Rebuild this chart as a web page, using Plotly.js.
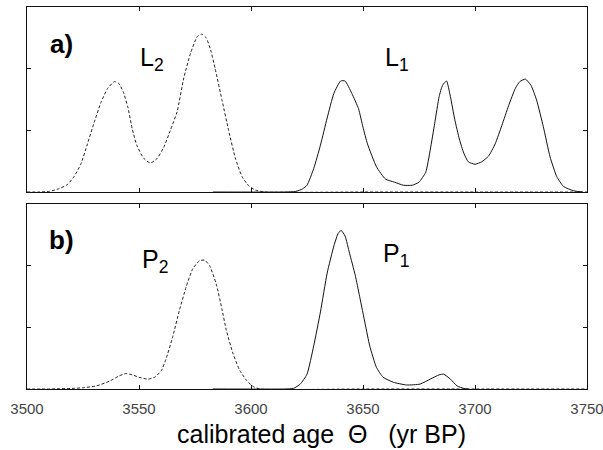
<!DOCTYPE html>
<html>
<head>
<meta charset="utf-8">
<script src="https://cdn.plot.ly/plotly-3.0.1.min.js"></script>
<style>html,body{margin:0;padding:0;background:#fff;}#chart{width:603px;height:450px;}</style>
</head>
<body>
<div id="chart"></div>
<script>
// Panel a) L2 (dashed) and L1 (solid)
var L2_x = [3500, 3505, 3510, 3514, 3518, 3521, 3524, 3527, 3530, 3533, 3536, 3539, 3541, 3543, 3545, 3547, 3549, 3552, 3555, 3558, 3561, 3564, 3567, 3570, 3573, 3576, 3578, 3580, 3582, 3584, 3587, 3590, 3593, 3596, 3599, 3602, 3606, 3650, 3700, 3750];
var L2_y = [0, 0, 0.01, 0.05, 0.12, 0.25, 0.45, 0.78, 1.13, 1.45, 1.68, 1.79, 1.76, 1.62, 1.38, 1.02, 0.76, 0.55, 0.47, 0.54, 0.72, 1.0, 1.3, 1.85, 2.25, 2.52, 2.56, 2.5, 2.3, 2.0, 1.5, 1.0, 0.55, 0.25, 0.1, 0.03, 0, 0, 0, 0];

var L1_x = [3583, 3615, 3620, 3623, 3625, 3628, 3631, 3634, 3637, 3640, 3642, 3645, 3648, 3650, 3652, 3656, 3660, 3664, 3668, 3672, 3675, 3678, 3680, 3682, 3684, 3685.5, 3687.3, 3689, 3691, 3693, 3695, 3697, 3700, 3703, 3706, 3709, 3712, 3715, 3718, 3720, 3722.5, 3725, 3727.5, 3730.5, 3733.5, 3736.5, 3739.5, 3744, 3748];
var L1_y = [0, 0, 0.01, 0.05, 0.11, 0.38, 0.76, 1.2, 1.6, 1.8, 1.8, 1.6, 1.35, 1.05, 0.78, 0.41, 0.21, 0.16, 0.11, 0.11, 0.16, 0.32, 0.68, 1.11, 1.55, 1.73, 1.8, 1.55, 1.17, 0.86, 0.63, 0.49, 0.45, 0.49, 0.58, 0.78, 1.08, 1.4, 1.68, 1.79, 1.83, 1.73, 1.49, 1.06, 0.57, 0.25, 0.09, 0.02, 0];

// Panel b) P2 (dashed) and P1 (solid)
var P2_x = [3500, 3510, 3520, 3525, 3531, 3537, 3541, 3544, 3547, 3550, 3554, 3557, 3560, 3562, 3565, 3568, 3571, 3574, 3577, 3579.3, 3581.5, 3584.5, 3587, 3589, 3592, 3595, 3598, 3601, 3604, 3650, 3700, 3750];
var P2_y = [0, 0, 0.01, 0.02, 0.05, 0.13, 0.21, 0.25, 0.23, 0.19, 0.16, 0.19, 0.3, 0.48, 0.84, 1.27, 1.65, 1.95, 2.08, 2.09, 2.0, 1.7, 1.3, 0.95, 0.57, 0.3, 0.14, 0.04, 0, 0, 0, 0];

var P1_x = [3583, 3615, 3619, 3622, 3625, 3628, 3631, 3634, 3637, 3639, 3640.3, 3642, 3644, 3646.5, 3648.5, 3651, 3653, 3656, 3659, 3663.5, 3669.5, 3675.5, 3680, 3684, 3686, 3689, 3692, 3695, 3697];
var P1_y = [0, 0, 0.01, 0.08, 0.24, 0.7, 1.25, 1.88, 2.32, 2.53, 2.57, 2.48, 2.2, 1.85, 1.5, 1.05, 0.7, 0.35, 0.19, 0.11, 0.065, 0.08, 0.16, 0.23, 0.24, 0.16, 0.05, 0.01, 0];

var xTickVals = [3500, 3550, 3600, 3650, 3700, 3750];
var xTickText = ["3500", "3550", "3600", "3650", "3700", "3750"];
var yTickVals = [1, 2];
var NB = "\u00a0";
var xTitle = "calibrated age" + NB.repeat(2) + "\u0398" + NB.repeat(3) + "(yr" + NB + "BP)";

var FONT = "Liberation Sans, Arial, sans-serif";
var dashed = {color: "#222", width: 1, dash: "3px,2px", shape: "spline", smoothing: 0.5};
var solid = {color: "#111", width: 1, shape: "spline", smoothing: 0.5};

var data = [
  {x: L2_x, y: L2_y, xaxis: "x", yaxis: "y", mode: "lines", line: dashed, name: "L2"},
  {x: L1_x, y: L1_y, xaxis: "x", yaxis: "y", mode: "lines", line: solid, name: "L1"},
  {x: P2_x, y: P2_y, xaxis: "x2", yaxis: "y2", mode: "lines", line: dashed, name: "P2"},
  {x: P1_x, y: P1_y, xaxis: "x2", yaxis: "y2", mode: "lines", line: solid, name: "P1"}
];

var axBase = {showline: true, mirror: "ticks", linecolor: "#111", linewidth: 1,
  ticks: "inside", ticklen: 4, tickcolor: "#111", showgrid: false, zeroline: false, fixedrange: true};

var layout = {
  width: 603, height: 450,
  margin: {l: 27, r: 16, t: 7, b: 61},
  paper_bgcolor: "#fff", plot_bgcolor: "#fff",
  showlegend: false,
  font: {family: FONT, color: "#000"},
  xaxis: Object.assign({}, axBase, {domain: [0, 1], anchor: "y", range: [3500, 3750], tickvals: xTickVals, showticklabels: false}),
  yaxis: Object.assign({}, axBase, {domain: [0.5157, 1], anchor: "x", range: [0, 3], tickvals: yTickVals, showticklabels: false}),
  xaxis2: Object.assign({}, axBase, {domain: [0, 1], anchor: "y2", range: [3500, 3750], tickvals: xTickVals, ticktext: xTickText,
    tickfont: {family: FONT, size: 15, color: "#444"}, ticklabelstandoff: 6, ticklabeloverflow: "allow"}),
  yaxis2: Object.assign({}, axBase, {domain: [0, 0.4843], anchor: "x2", range: [0, 3], tickvals: yTickVals, showticklabels: false}),
  annotations: [
    {text: xTitle, x: 0.2643, y: -0.1178, xref: "paper", yref: "paper", showarrow: false, xanchor: "left", yanchor: "middle", font: {family: FONT, size: 25, color: "#000"}},
    {text: "<b>a)</b>", x: 3515.6, y: 2.40, xref: "x", yref: "y", showarrow: false, xanchor: "center", yanchor: "middle", font: {family: FONT, size: 26, color: "#000"}},
    {text: "<b>b)</b>", x: 3515.6, y: 2.41, xref: "x2", yref: "y2", showarrow: false, xanchor: "center", yanchor: "middle", font: {family: FONT, size: 26, color: "#000"}},
    {text: "L<sub>2</sub>", x: 3549.5, y: 2.16, xref: "x", yref: "y", showarrow: false, xanchor: "left", yanchor: "middle", font: {family: FONT, size: 25, color: "#000"}},
    {text: "L<sub>1</sub>", x: 3659.0, y: 2.16, xref: "x", yref: "y", showarrow: false, xanchor: "left", yanchor: "middle", font: {family: FONT, size: 25, color: "#000"}},
    {text: "P<sub>2</sub>", x: 3550.5, y: 2.07, xref: "x2", yref: "y2", showarrow: false, xanchor: "left", yanchor: "middle", font: {family: FONT, size: 25, color: "#000"}},
    {text: "P<sub>1</sub>", x: 3658.0, y: 2.17, xref: "x2", yref: "y2", showarrow: false, xanchor: "left", yanchor: "middle", font: {family: FONT, size: 25, color: "#000"}}
  ]
};

Plotly.newPlot("chart", data, layout, {staticPlot: true, displayModeBar: false});
</script>
</body>
</html>
